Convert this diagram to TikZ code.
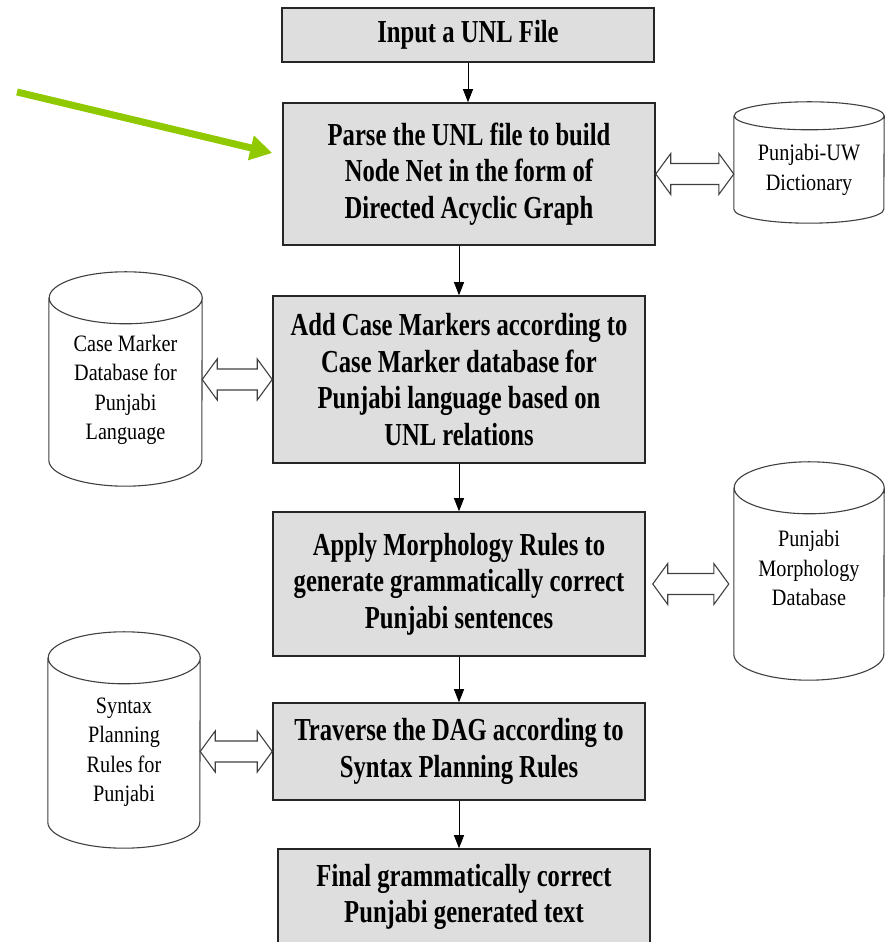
\documentclass[tikz,border=0pt]{standalone}
\usepackage{fontspec}
\setmainfont{Liberation Serif}
\newfontfamily\boxfont[FakeStretch=0.77]{Liberation Serif}
\newfontfamily\dbfont[FakeStretch=0.86]{Liberation Serif}
\usetikzlibrary{arrows.meta,calc}
\definecolor{boxgray}{RGB}{222,222,222}
\definecolor{pointgreen}{RGB}{145,201,0}
\tikzset{
  stepbox/.style={draw=black!85, line width=1.5pt, fill=boxgray, minimum width=372, align=center, inner sep=0pt,
    font=\boxfont\bfseries\fontsize{32}{36.5}\selectfont},
  drumbox/.style={inner sep=0pt},
  dbline/.style={draw=black!75, line width=1.1pt, fill=white},
  dbtext/.style={align=center, inner sep=0pt, font=\dbfont\fontsize{23.5}{29.5}\selectfont},
  flow/.style={-{Triangle[length=13pt,width=10pt]}, line width=0.9pt},
  dblarrow/.style={draw=black!75, line width=1.1pt, fill=white, line join=miter},
  pointer/.style={pointgreen, line width=7pt, -{Triangle[length=22pt,width=24pt]}}
}
% cylinder outline round an empty node: name, x radius, y radius
\newcommand{\drum}[3]{%
  \draw[dbline] ([yshift=-#3]#1.north west) -- ([yshift=#3]#1.south west)
    arc[start angle=180, end angle=360, x radius=#2, y radius=#3]
    -- ([yshift=-#3]#1.north east)
    arc[start angle=0, end angle=180, x radius=#2, y radius=#3]
    arc[start angle=180, end angle=360, x radius=#2, y radius=#3];}
% hollow double arrow from one point to another
\newcommand{\hollow}[2]{%
  \draw[dblarrow] let \p1=(#1), \p2=(#2) in
    (\x1,\y1) -- (\x1+15pt,\y1+20.5pt) -- (\x1+15pt,\y1+10.5pt)
    -- (\x2-15pt,\y1+10.5pt) -- (\x2-15pt,\y1+20.5pt) -- (\x2,\y1)
    -- (\x2-15pt,\y1-20.5pt) -- (\x2-15pt,\y1-10.5pt)
    -- (\x1+15pt,\y1-10.5pt) -- (\x1+15pt,\y1-20.5pt) -- cycle;}

\begin{document}
\begin{tikzpicture}[x=1pt,y=1pt]
  \useasboundingbox (0,0) rectangle (888,942);

  \node[stepbox, minimum height=54] (box1) at (468,907) {Input a UNL File};
  \node[stepbox, minimum height=142] (box2) at (469,768) {Parse the UNL file to build\\Node Net in the form of\\Directed Acyclic Graph};
  \node[stepbox, minimum height=167] (box3) at (459,562.5) {Add Case Markers according to\\Case Marker database for\\Punjabi language based on\\UNL relations};
  \node[stepbox, minimum height=144] (box4) at (459,358) {Apply Morphology Rules to\\generate grammatically correct\\Punjabi sentences};
  \node[stepbox, minimum height=97] (box5) at (459,190.5) {Traverse the DAG according to\\Syntax Planning Rules};
  \node[stepbox, minimum height=96] (box6) at (464,45) {Final grammatically correct\\Punjabi generated text};

  \draw[flow] (box1.south) -- (box1.south |- box2.north);
  \draw[flow] (box2.south -| box3.north) -- (box3.north);
  \draw[flow] (box3.south) -- (box4.north);
  \draw[flow] (box4.south) -- (box5.north);
  \draw[flow] (box5.south) -- (box5.south |- box6.north);

  % databases
  \node[drumbox, minimum width=150, minimum height=121] (uw) at (809,779.5) {};
  \drum{uw}{75}{14}
  \node[dbtext] (uwtext) at (809,772) {Punjabi-UW\\Dictionary};

  \node[drumbox, minimum width=153, minimum height=214] (cm) at (125.5,563) {};
  \drum{cm}{76.5}{26}
  \node[dbtext] (cmtext) at (125.5,552) {Case Marker\\Database for\\Punjabi\\Language};

  \node[drumbox, minimum width=150, minimum height=218] (mo) at (809,371) {};
  \drum{mo}{75}{26}
  \node[dbtext] (motext) at (809,374) {Punjabi\\Morphology\\Database};

  \node[drumbox, minimum width=152, minimum height=216] (sy) at (124,202) {};
  \drum{sy}{76}{26}
  \node[dbtext] (sytext) at (124,190) {Syntax\\Planning\\Rules for\\Punjabi};

  \hollow{box2.east}{uw.west}
  \hollow{cm.east |- box3.west}{box3.west}
  \hollow{[xshift=7pt]box4.east}{[xshift=-5pt]mo.west}
  \hollow{sy.east |- box5.west}{box5.west}

  \coordinate (tail) at (17,850);
  \draw[pointer] (tail) -- ([shift={(-10,21)}]box2.west);
\end{tikzpicture}
\end{document}
